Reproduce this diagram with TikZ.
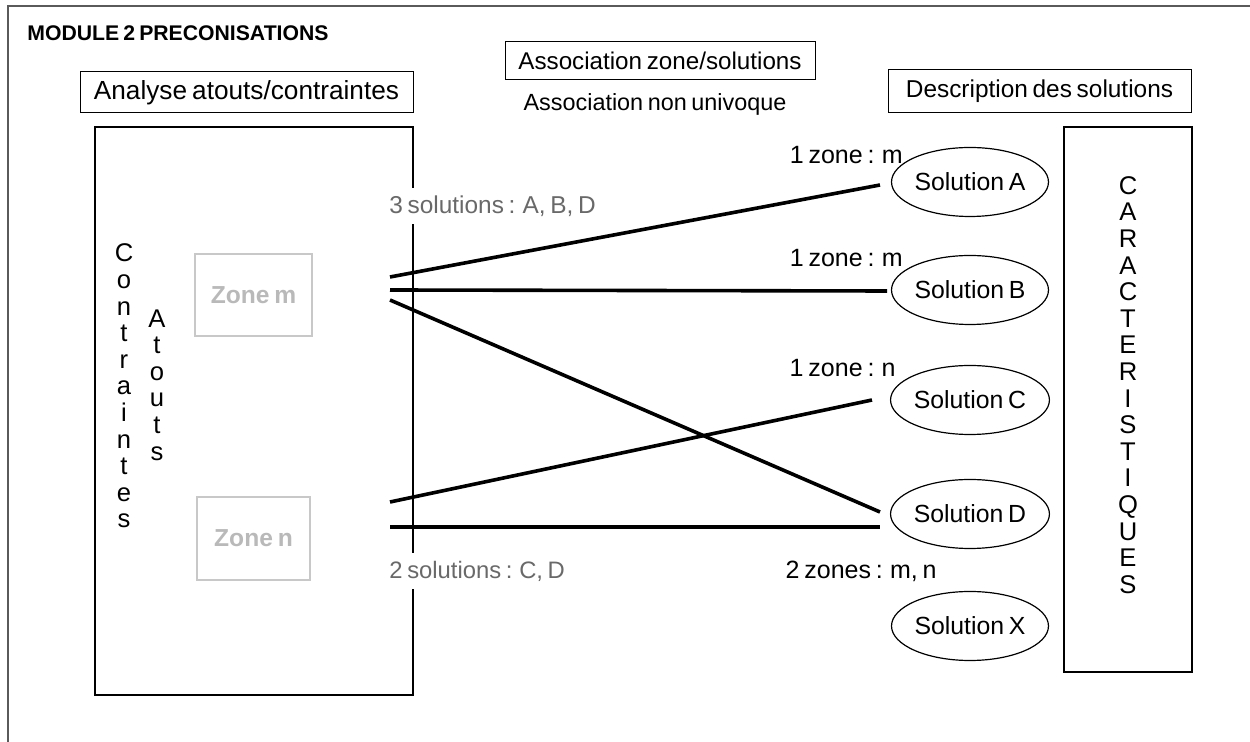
\documentclass[tikz,border=0pt]{standalone}
\usepackage{fontspec}
\setmainfont[WordSpace=0.7]{Liberation Sans}
\usetikzlibrary{shapes.geometric}
\definecolor{framegray}{RGB}{90,90,90}
\definecolor{zonegray}{RGB}{200,200,200}
\definecolor{zonetext}{RGB}{185,185,185}
\definecolor{labgray}{RGB}{105,105,105}
\newcommand{\fsz}[1]{\fontsize{#1}{14}\selectfont}
\tikzset{
  hbox/.style={draw=black, line width=0.5pt, minimum height=20.5pt, inner sep=0pt},
  zonebox/.style={draw=zonegray, line width=1pt, inner sep=0pt, font=\fsz{12.3}\bfseries, text=zonetext},
  sol/.style={draw=black, ellipse, line width=0.6pt, minimum width=66.5pt, minimum height=34.5pt, inner sep=0pt, font=\fsz{12.4}},
  vert/.style={align=center, inner sep=0pt, font=\fontsize{12.8}{13.3}\selectfont},
  lab/.style={inner sep=0pt, font=\fsz{12.5}},
  glab/.style={inner xsep=0pt, inner ysep=4pt, fill=white, text=labgray},
  link/.style={line width=1.8pt, black},
}
\begin{document}
\begin{tikzpicture}[x=0.5pt, y=-0.5pt]
\useasboundingbox (0,0) rectangle (1250,742);
% outer frame
\draw[framegray, line width=0.6pt] (8,742) -- (8,6) -- (1250,6);
% title
\node[anchor=west, inner sep=0pt, font=\fsz{10.6}\bfseries] (title) at (27,33) {MODULE 2 PRECONISATIONS};
% header boxes
\node[hbox, minimum width=166.5pt, font=\fsz{13.1}] (analyse) at (246.5,92.5) {Analyse atouts/contraintes};
\node[hbox, minimum width=155pt, minimum height=19pt, font=\fsz{12.1}] (assoc) at (660,61) {Association zone/solutions};
\node[lab, font=\fsz{11.7}] (univ) at (655,104) {Association non univoque};
\node[hbox, minimum width=151.5pt, minimum height=21.5pt, font=\fsz{12.2}] (descr) at (1039.5,91.5) {Description des solutions};
% left big rectangle
\node[draw=black, line width=0.6pt, minimum width=159pt, minimum height=284pt, inner sep=0pt] (left) at (254,411) {};
\node[vert] (contr) at (124,386) {C\\o\\n\\t\\r\\a\\i\\n\\t\\e\\s};
\node[vert] (atouts) at (157,385) {A\\t\\o\\u\\t\\s};
% zones
\node[zonebox, minimum width=58.5pt, minimum height=41pt] (zm) at (253.5,295) {Zone m};
\node[zonebox, minimum width=56.5pt, minimum height=41.5pt] (zn) at (253.5,538.5) {Zone n};
% right box
\node[draw=black, line width=0.6pt, minimum width=64pt, minimum height=272.5pt, inner sep=0pt] (carac) at (1128,399.5) {};
\node[vert] (caractxt) at (1128,385) {C\\A\\R\\A\\C\\T\\E\\R\\I\\S\\T\\I\\Q\\U\\E\\S};
% solutions
\node[sol] (sA) at (970,182) {Solution A};
\node[sol] (sB) at (970,290) {Solution B};
\node[sol] (sC) at (970,400) {Solution C};
\node[sol] (sD) at (970,514) {Solution D};
\node[sol] (sX) at (970,626) {Solution X};
% connector ends
\coordinate (m1) at (390,277);
\coordinate (m2) at (390,290);
\coordinate (m3) at (390,300);
\coordinate (n1) at (390,502);
\coordinate (n2) at (390,527);
\coordinate (eA) at (880,185);
\coordinate (eB) at (887,291);
\coordinate (eC) at (872,400);
\coordinate (eD1) at (880,512);
\coordinate (eD2) at (880,527);
\draw[link] (m1) -- (eA);
\draw[link] (m2) -- (eB);
\draw[link] (m3) -- (eD1);
\draw[link] (n1) -- (eC);
\draw[link] (n2) -- (eD2);
% labels
\node[glab, anchor=west, font=\fsz{12.2}] (l3) at (389,206) {3 solutions : A, B, D};
\node[glab, anchor=west, font=\fsz{11.9}] (l2) at (389,571) {2 solutions : C, D};
\node[lab, anchor=east] (zA) at (903,155) {1 zone : m};
\node[lab, anchor=east] (zB) at (903,258) {1 zone : m};
\node[lab, anchor=east] (zC) at (896,368) {1 zone : n};
\node[lab, anchor=east] (zD) at (937,571) {2 zones : m, n};
\end{tikzpicture}
\end{document}
